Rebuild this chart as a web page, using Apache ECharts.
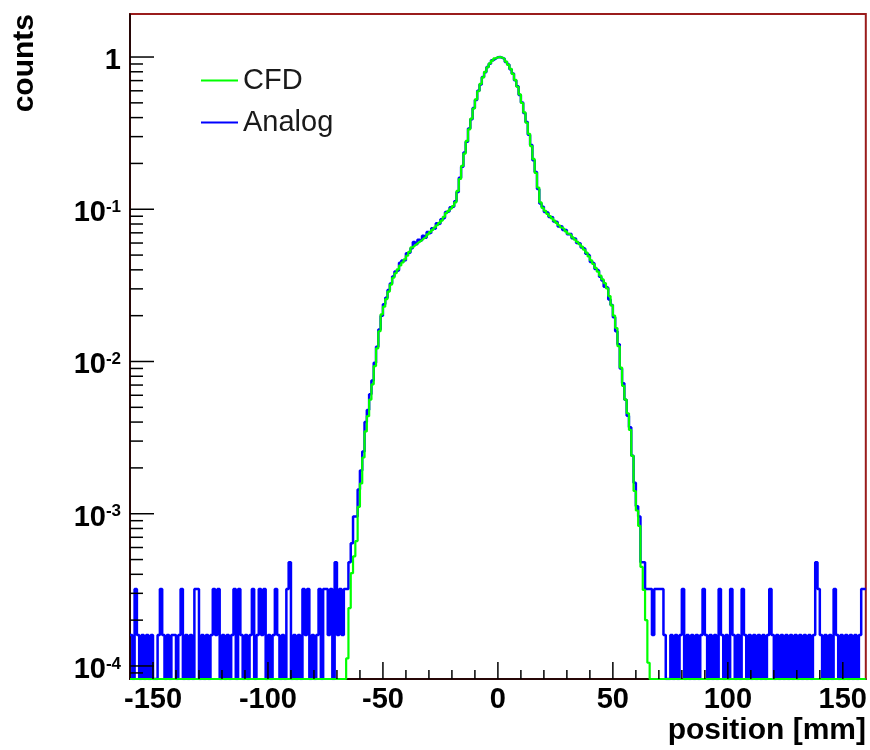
<!DOCTYPE html>
<html><head><meta charset="utf-8">
<script src="https://cdn.jsdelivr.net/npm/echarts@6/dist/echarts.min.js"></script>
<style>html,body{margin:0;padding:0;background:#fff}#c{width:870px;height:750px}</style>
</head><body><div id="c"></div>
<script>
// ---- data ----
const xRange = [-160, 160];
const yRange = [8.21e-5, 1.917];
const binWidth = 1;
const xTickLabels = [-150, -100, -50, 0, 50, 100, 150];
const yTickLabels = [1e-4, 1e-3, 1e-2, 1e-1, 1];

// CFD histogram, bins from -66 mm to 66 mm (zero elsewhere)
const cfdStart = -66;
const cfdValues = [
  1.12e-4, 2.40e-4, 4.07e-4, 5.25e-4, 6.61e-4, 1.11e-3, 1.58e-3, 2.34e-3, 3.47e-3, 4.37e-3,
  5.62e-3, 7.08e-3, 9.33e-3, 1.22e-2, 1.58e-2, 2.04e-2, 2.29e-2, 2.57e-2, 2.88e-2, 3.20e-2,
  3.55e-2, 3.80e-2, 4.03e-2, 4.27e-2, 4.47e-2, 4.68e-2, 4.95e-2, 5.25e-2, 5.62e-2, 5.79e-2,
  5.96e-2, 6.11e-2, 6.28e-2, 6.46e-2, 6.61e-2, 6.84e-2, 7.08e-2, 7.33e-2, 7.59e-2, 7.85e-2,
  8.13e-2, 8.41e-2, 8.91e-2, 9.44e-2, 9.77e-2, 0.101, 0.105, 0.111, 0.132, 0.158,
  0.193, 0.232, 0.281, 0.335, 0.394, 0.459, 0.527, 0.596, 0.667, 0.735,
  0.800, 0.857, 0.908, 0.948, 0.979, 0.995,
  1.000, 0.991, 0.968, 0.933, 0.889, 0.836, 0.774, 0.708, 0.638, 0.569,
  0.499, 0.433, 0.370, 0.313, 0.260, 0.214, 0.173, 0.139, 0.111, 0.102,
  9.77e-2, 9.33e-2, 9.02e-2, 8.71e-2, 8.41e-2, 8.13e-2, 7.85e-2, 7.59e-2, 7.41e-2, 7.16e-2,
  6.92e-2, 6.76e-2, 6.53e-2, 6.31e-2, 6.10e-2, 5.89e-2, 5.69e-2, 5.43e-2, 5.19e-2, 4.90e-2,
  4.62e-2, 4.37e-2, 4.12e-2, 3.89e-2, 3.67e-2, 3.47e-2, 3.27e-2, 3.02e-2, 2.69e-2, 2.34e-2,
  2.00e-2, 1.66e-2, 1.26e-2, 9.12e-3, 6.92e-3, 5.62e-3, 4.57e-3, 3.55e-3, 2.40e-3, 1.41e-3,
  1.05e-3, 8.32e-4, 4.47e-4, 3.16e-4, 2.00e-4, 1.05e-4
];

// Analog histogram: bins from -160 mm to 160 mm
const analogStart = -160;
const analogLeftTail = [ // -160 .. -67
  1.6e-4,0,3.2e-4,1.6e-4,0,1.6e-4,0,1.6e-4,0,1.6e-4,
  0,0,1.6e-4,3.2e-4,1.6e-4,0,1.6e-4,0,1.6e-4,1.6e-4,
  0,1.6e-4,3.2e-4,0,1.6e-4,0,1.6e-4,0,3.2e-4,3.2e-4,
  0,1.6e-4,0,1.6e-4,0,1.6e-4,3.2e-4,1.6e-4,3.2e-4,0,
  1.6e-4,0,1.6e-4,0,1.6e-4,3.2e-4,0,3.2e-4,1.6e-4,0,
  1.6e-4,0,1.6e-4,3.2e-4,0,1.6e-4,3.2e-4,1.6e-4,3.2e-4,0,
  1.6e-4,0,1.6e-4,3.2e-4,1.6e-4,0,1.6e-4,0,3.2e-4,4.8e-4,
  0,1.6e-4,0,1.6e-4,0,3.2e-4,1.6e-4,3.2e-4,0,1.6e-4,
  0,1.6e-4,3.2e-4,0,3.2e-4,3.2e-4,1.6e-4,3.2e-4,0,4.8e-4,
  1.6e-4,3.2e-4,1.6e-4,3.2e-4
];
const analogCore = [ // -66 .. 65
  3.2e-4, 4.8e-4, 6.4e-4, 9.6e-4, 9.6e-4, 1.44e-3, 1.92e-3, 2.56e-3, 4.0e-3, 4.8e-3,
  6.1e-3, 7.5e-3, 9.8e-3, 1.25e-2, 1.62e-2, 2.0e-2, 2.38e-2, 2.62e-2, 2.95e-2, 3.25e-2,
  3.62e-2, 3.9e-2, 3.98e-2, 4.45e-2, 4.6e-2, 4.62e-2, 5.15e-2, 5.2e-2, 5.55e-2, 6.1e-2,
  5.9e-2, 6.3e-2, 6.2e-2, 6.7e-2, 6.5e-2, 7.1e-2, 6.95e-2, 7.5e-2, 7.45e-2, 8.1e-2,
  8.0e-2, 8.6e-2, 8.8e-2, 9.6e-2, 9.7e-2, 0.103, 0.104, 0.113, 0.130, 0.161,
  0.190, 0.236, 0.278, 0.339, 0.390, 0.463, 0.522, 0.601, 0.661, 0.740,
  0.795, 0.861, 0.904, 0.951, 0.975, 0.997,
  1.000, 0.988, 0.971, 0.929, 0.893, 0.831, 0.779, 0.703, 0.643, 0.564,
  0.503, 0.429, 0.374, 0.309, 0.264, 0.210, 0.176, 0.136, 0.109, 0.104,
  9.6e-2, 9.5e-2, 8.9e-2, 8.85e-2, 8.3e-2, 8.25e-2, 7.7e-2, 7.75e-2, 7.3e-2, 7.3e-2,
  6.85e-2, 6.9e-2, 6.45e-2, 6.4e-2, 6.0e-2, 5.95e-2, 5.6e-2, 5.5e-2, 5.1e-2, 4.95e-2,
  4.5e-2, 4.4e-2, 4.05e-2, 3.95e-2, 3.6e-2, 3.4e-2, 3.1e-2, 3.05e-2, 2.55e-2, 2.35e-2,
  1.95e-2, 1.58e-2, 1.3e-2, 9.0e-3, 7.2e-3, 5.6e-3, 4.4e-3, 3.7e-3, 2.4e-3, 1.6e-3,
  1.12e-3, 9.6e-4, 4.8e-4, 4.8e-4, 3.2e-4, 3.2e-4
];
const analogRightTail = [ // 66 .. 159
  3.2e-4,1.6e-4,3.2e-4,3.2e-4,3.2e-4,3.2e-4,1.6e-4,0,0,1.6e-4,0,1.6e-4,0,1.6e-4,3.2e-4,0,
  1.6e-4,0,1.6e-4,0,1.6e-4,0,1.6e-4,3.2e-4,1.6e-4,0,1.6e-4,0,1.6e-4,0,3.2e-4,1.6e-4,
  0,1.6e-4,0,3.2e-4,1.6e-4,0,1.6e-4,0,3.2e-4,1.6e-4,0,1.6e-4,0,1.6e-4,0,1.6e-4,
  0,1.6e-4,0,1.6e-4,3.2e-4,1.6e-4,0,1.6e-4,0,1.6e-4,0,1.6e-4,0,1.6e-4,0,1.6e-4,
  0,1.6e-4,0,1.6e-4,0,1.6e-4,0,1.6e-4,4.8e-4,3.2e-4,1.6e-4,0,1.6e-4,0,1.6e-4,0,
  3.2e-4,1.6e-4,0,1.6e-4,0,1.6e-4,0,1.6e-4,0,1.6e-4,0,1.6e-4,3.2e-4,3.2e-4
];

// ---- build ----
const FONT = '"Liberation Sans", Arial, Helvetica, sans-serif';
const floorY = yRange[0];
function stepPoints(start, vals) {
  const pts = [];
  vals.forEach((v, i) => {
    const y = v > 0 ? v : floorY;
    const x0 = start + i * binWidth;
    pts.push([x0, y], [x0 + binWidth, y]);
  });
  return pts;
}
const cfdEnd = cfdStart + cfdValues.length * binWidth;
const cfdPts = [[xRange[0], floorY], [cfdStart, floorY]]
  .concat(stepPoints(cfdStart, cfdValues))
  .concat([[cfdEnd, floorY], [xRange[1], floorY]]);
const analogPts = stepPoints(analogStart, analogLeftTail.concat(analogCore, analogRightTail));

// axis tick marks (drawn through the axes' scales)
const tickItems = [];
yTickLabels.forEach(v => tickItems.push([xRange[0], v, 0]));
[1e-5, 1e-4, 1e-3, 1e-2, 1e-1].forEach(d => {
  for (let m = 2; m <= 9; m++) {
    const v = d * m;
    if (v > floorY && v < yRange[1]) tickItems.push([xRange[0], v, 1]);
  }
});
xTickLabels.forEach(v => tickItems.push([v, floorY, 2]));
for (let v = xRange[0] + 10; v < xRange[1]; v += 10) {
  if (!xTickLabels.includes(v)) tickItems.push([v, floorY, 3]);
}
const tickLen = [24, 13, 17, 9];

const chart = echarts.init(document.getElementById('c'), null, {renderer: 'canvas'});
chart.setOption({
  animation: false,
  backgroundColor: '#fff',
  grid: {left: 130, right: 4, top: 14, bottom: 71, show: true, borderColor: '#9a1c1c', borderWidth: 2, backgroundColor: 'transparent'},
  legend: {
    data: ['CFD', 'Analog'], orient: 'vertical', left: 195, top: 61,
    itemWidth: 37, itemHeight: 29, itemGap: 13,
    itemStyle: {opacity: 0},
    lineStyle: {width: 2},
    textStyle: {fontSize: 29, color: '#1a1a1a', fontFamily: FONT}
  },
  xAxis: {
    type: 'value', min: xRange[0], max: xRange[1], interval: 10,
    axisLine: {show: true, onZero: false, lineStyle: {color: '#000', width: 1.5}},
    axisTick: {show: false}, splitLine: {show: false},
    axisLabel: {
      margin: 6, fontSize: 29, fontWeight: 'bold', color: '#000', fontFamily: FONT,
      formatter: v => xTickLabels.includes(v) ? String(v) : ''
    }
  },
  yAxis: {
    type: 'log', logBase: 10, min: yRange[0], max: yRange[1],
    axisLine: {show: true, onZero: false, lineStyle: {color: '#000', width: 1.5}},
    axisTick: {show: false}, splitLine: {show: false}, minorTick: {show: false},
    axisLabel: {
      margin: 9, color: '#000', fontFamily: FONT, padding: [8, 0, 0, 0],
      formatter: v => {
        const lg = Math.log10(v), e = Math.round(lg);
        if (Math.abs(lg - e) > 1e-6) return '';
        if (!yTickLabels.some(t => Math.abs(Math.log10(t) - e) < 1e-6)) return '';
        return e === 0 ? '{b|1}' : '{b|10}{s|' + e + '}';
      },
      rich: {
        b: {fontSize: 29, fontWeight: 'bold', fontFamily: FONT, color: '#000', lineHeight: 29},
        s: {fontSize: 17, fontWeight: 'bold', fontFamily: FONT, color: '#000', lineHeight: 17, verticalAlign: 'top'}
      }
    }
  },
  series: [
    {
      name: 'Analog', type: 'line', data: analogPts, symbol: 'none', z: 2,
      lineStyle: {color: '#0000ff', width: 2.5}, itemStyle: {color: '#0000ff'}, clip: true
    },
    {
      name: 'CFD', type: 'line', data: cfdPts, symbol: 'none', z: 3,
      lineStyle: {color: '#00ff00', width: 2.2}, itemStyle: {color: '#00ff00'}, clip: true
    },
    {
      name: 'ticks', type: 'custom', z: 5, silent: true, clip: false,
      data: tickItems,
      renderItem: (params, api) => {
        const p = api.coord([api.value(0), api.value(1)]);
        const k = api.value(2);
        const len = tickLen[k];
        const shape = k < 2
          ? {x1: p[0], y1: p[1], x2: p[0] + len, y2: p[1]}
          : {x1: p[0], y1: p[1], x2: p[0], y2: p[1] - len};
        return {type: 'line', shape, style: {stroke: '#000', lineWidth: 1.5}};
      }
    }
  ],
  graphic: [
    {type: 'text', x: 25, y: 14, rotation: Math.PI / 2,
     style: {text: 'counts', font: 'bold 30px ' + FONT, fill: '#000', align: 'right', verticalAlign: 'middle'}},
    {type: 'text', x: 866, y: 731,
     style: {text: 'position [mm]', font: 'bold 30px ' + FONT, fill: '#000', align: 'right', verticalAlign: 'middle'}}
  ]
});
</script></body></html>
